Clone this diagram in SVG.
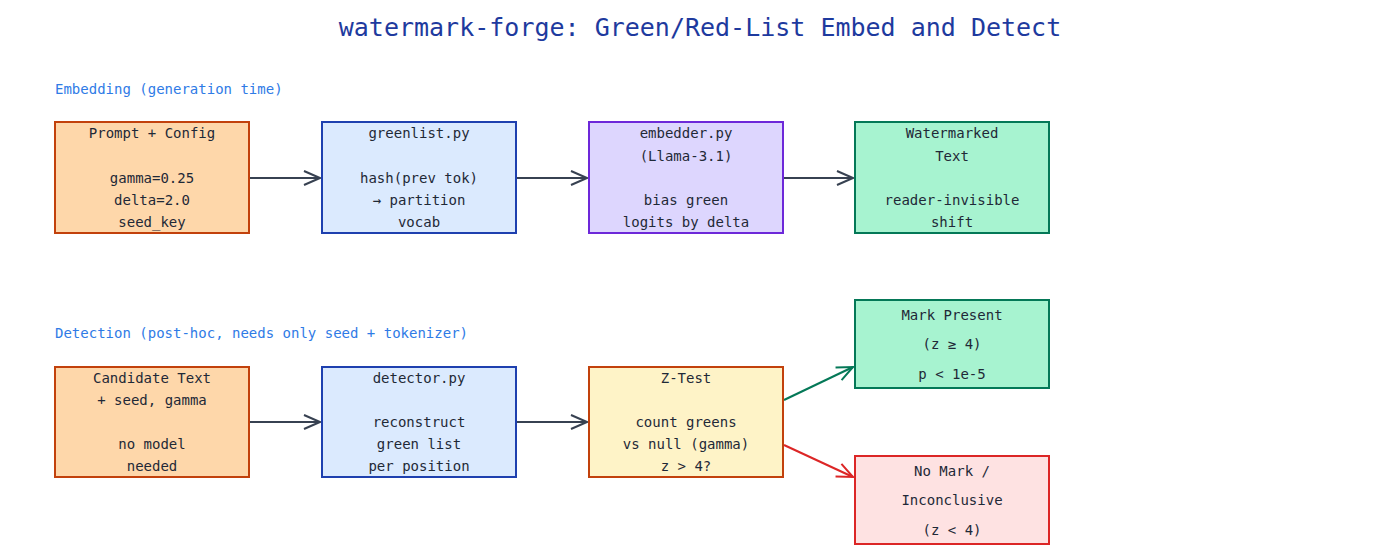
<svg xmlns="http://www.w3.org/2000/svg" width="1400" height="556" viewBox="0 0 1400 556">
<style>
text{font-family:"DejaVu Sans Mono","Liberation Mono",monospace;}
.t{font-size:14px;fill:#1f2937;text-anchor:middle}
.sec{font-size:14px;fill:#2f7be6}
rect{stroke-width:2}
.c{fill:none;stroke-width:2}
</style>
<defs>
<marker id="a" viewBox="0 0 20 20" refX="18" refY="10" markerWidth="20" markerHeight="20" markerUnits="userSpaceOnUse" orient="auto"><path d="M2,3 L18,10 L2,17" fill="none" stroke="#374151" stroke-width="2"/></marker>
<marker id="g" viewBox="0 0 20 20" refX="18" refY="10" markerWidth="20" markerHeight="20" markerUnits="userSpaceOnUse" orient="auto"><path d="M2,3 L18,10 L2,17" fill="none" stroke="#047857" stroke-width="2"/></marker>
<marker id="r" viewBox="0 0 20 20" refX="18" refY="10" markerWidth="20" markerHeight="20" markerUnits="userSpaceOnUse" orient="auto"><path d="M2,3 L18,10 L2,17" fill="none" stroke="#dc2626" stroke-width="2"/></marker>
</defs>
<rect width="1400" height="556" fill="#fff" stroke="none"/>
<text x="700" y="36" text-anchor="middle" font-size="25" fill="#1e3a9e">watermark-forge: Green/Red-List Embed and Detect</text>
<text class="sec" x="55" y="94">Embedding (generation time)</text>
<text class="sec" x="55" y="338">Detection (post-hoc, needs only seed + tokenizer)</text>
<g id="connectors">
<path class="c" stroke="#374151" d="M250,178 H320" marker-end="url(#a)"/>
<path class="c" stroke="#374151" d="M517,178 H587" marker-end="url(#a)"/>
<path class="c" stroke="#374151" d="M784,178 H853" marker-end="url(#a)"/>
<path class="c" stroke="#374151" d="M250,422 H320" marker-end="url(#a)"/>
<path class="c" stroke="#374151" d="M517,422 H587" marker-end="url(#a)"/>
<path class="c" stroke="#047857" d="M784,400 L853,367" marker-end="url(#g)"/>
<path class="c" stroke="#dc2626" d="M784,445 L853,477" marker-end="url(#r)"/>
</g>
<g id="prompt"><rect x="55" y="122" width="194" height="111" fill="#fed7aa" stroke="#c2410c"/>
<text class="t" x="152" y="138">Prompt + Config</text><text class="t" x="152" y="183">gamma=0.25</text><text class="t" x="152" y="205">delta=2.0</text><text class="t" x="152" y="227">seed_key</text></g>
<g id="greenlist"><rect x="322" y="122" width="194" height="111" fill="#dbeafe" stroke="#1e40af"/>
<text class="t" x="419" y="138">greenlist.py</text><text class="t" x="419" y="183">hash(prev tok)</text><text class="t" x="419" y="205">→ partition</text><text class="t" x="419" y="227">vocab</text></g>
<g id="embedder"><rect x="589" y="122" width="194" height="111" fill="#ddd6fe" stroke="#6d28d9"/>
<text class="t" x="686" y="138">embedder.py</text><text class="t" x="686" y="161">(Llama-3.1)</text><text class="t" x="686" y="205">bias green</text><text class="t" x="686" y="227">logits by delta</text></g>
<g id="watermarked"><rect x="855" y="122" width="194" height="111" fill="#a7f3d0" stroke="#047857"/>
<text class="t" x="952" y="138">Watermarked</text><text class="t" x="952" y="161">Text</text><text class="t" x="952" y="205">reader-invisible</text><text class="t" x="952" y="227">shift</text></g>
<g id="candidate"><rect x="55" y="367" width="194" height="110" fill="#fed7aa" stroke="#c2410c"/>
<text class="t" x="152" y="383">Candidate Text</text><text class="t" x="152" y="405">+ seed, gamma</text><text class="t" x="152" y="449">no model</text><text class="t" x="152" y="471">needed</text></g>
<g id="detector"><rect x="322" y="367" width="194" height="110" fill="#dbeafe" stroke="#1e40af"/>
<text class="t" x="419" y="383">detector.py</text><text class="t" x="419" y="427">reconstruct</text><text class="t" x="419" y="449">green list</text><text class="t" x="419" y="471">per position</text></g>
<g id="ztest"><rect x="589" y="367" width="194" height="110" fill="#fef3c7" stroke="#c2410c"/>
<text class="t" x="686" y="383">Z-Test</text><text class="t" x="686" y="427">count greens</text><text class="t" x="686" y="449">vs null (gamma)</text><text class="t" x="686" y="471">z &gt; 4?</text></g>
<g id="present"><rect x="855" y="300" width="194" height="88" fill="#a7f3d0" stroke="#047857"/>
<text class="t" x="952" y="320">Mark Present</text><text class="t" x="952" y="349">(z  ≥ 4)</text><text class="t" x="952" y="379">p &lt; 1e-5</text></g>
<g id="nomark"><rect x="855" y="456" width="194" height="88" fill="#fee2e2" stroke="#dc2626"/>
<text class="t" x="952" y="476">No Mark /</text><text class="t" x="952" y="505">Inconclusive</text><text class="t" x="952" y="535">(z &lt; 4)</text></g>
</svg>
